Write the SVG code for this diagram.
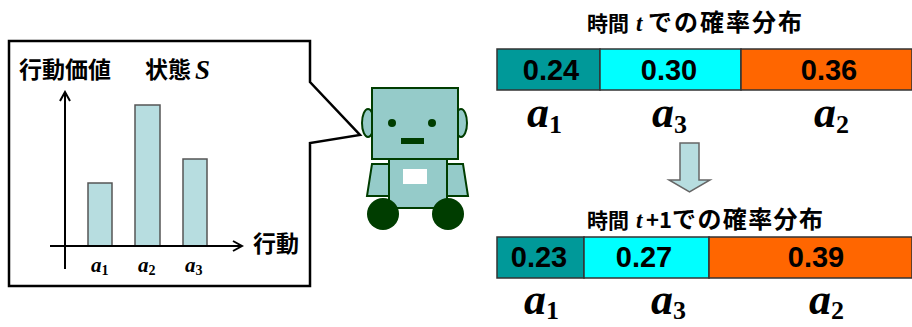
<svg xmlns="http://www.w3.org/2000/svg" width="912" height="327" viewBox="0 0 912 327">
  <defs>
    <marker id="arr" markerWidth="12" markerHeight="12" refX="10" refY="6" orient="auto" markerUnits="userSpaceOnUse">
      <path d="M1,1 L10,6 L1,11" fill="none" stroke="#000" stroke-width="2"/>
    </marker>
    <style>
      .jp { font-family: "Noto Sans CJK JP", "Noto Sans CJK SC", sans-serif; font-weight: 700; fill: #000; }
      .var { font-family: "Liberation Serif", "DejaVu Serif", serif; font-style: italic; font-weight: 700; fill: #000; }
      .sub { font-style: normal; }
      .num { font-family: "Liberation Sans", Arial, sans-serif; font-size: 29px; font-weight: 700; fill: #000; text-anchor: middle; }
      .bar { fill: #b7dde0; stroke: #555; stroke-width: 1.5; }
      .seg { stroke: #333; stroke-width: 1.5; }
      .robo { fill: #95cbc9; stroke: #003d00; stroke-width: 2; }
      .dk { fill: #003d00; }
    </style>
  </defs>

  <rect width="912" height="327" fill="#fff"/>

  <!-- speech bubble with bar chart -->
  <g id="bubble">
    <path d="M9,41 H310 V82 L360,135 L310,143 V286 H9 Z" fill="#fff" stroke="#000" stroke-width="2.5"/>
    <text class="jp" x="19" y="78" font-size="23">行動価値</text>
    <text class="jp" x="145" y="78" font-size="23">状態</text>
    <text class="var" x="195" y="79" font-size="27">S</text>
  </g>

  <g id="chart">
    <rect class="bar" x="88" y="183" width="24" height="63"/>
    <rect class="bar" x="135" y="105" width="25" height="141"/>
    <rect class="bar" x="183" y="159" width="24" height="87"/>
    <line x1="65" y1="269" x2="65" y2="92" stroke="#000" stroke-width="2" marker-end="url(#arr)"/>
    <line x1="50" y1="246" x2="242" y2="246" stroke="#000" stroke-width="2" marker-end="url(#arr)"/>
    <text class="jp" x="253" y="252" font-size="23">行動</text>
    <text class="var" x="91" y="272" font-size="21">a<tspan class="sub" font-size="14" dy="3">1</tspan></text>
    <text class="var" x="138" y="272" font-size="21">a<tspan class="sub" font-size="14" dy="3">2</tspan></text>
    <text class="var" x="185" y="272" font-size="21">a<tspan class="sub" font-size="14" dy="3">3</tspan></text>
  </g>

  <!-- robot -->
  <g id="robot">
    <ellipse class="robo" cx="368" cy="123" rx="6" ry="14"/>
    <ellipse class="robo" cx="461" cy="123" rx="6" ry="14"/>
    <polygon class="robo" points="372,164 389,164 391,196 367,196"/>
    <polygon class="robo" points="446,164 463,164 468,196 445,196"/>
    <rect class="robo" x="389" y="159" width="58" height="49"/>
    <rect x="403" y="169" width="24" height="15" fill="#fff"/>
    <rect class="robo" x="372" y="88" width="86" height="71"/>
    <circle class="dk" cx="392" cy="123" r="4"/>
    <circle class="dk" cx="432" cy="123" r="4"/>
    <rect class="dk" x="401" y="138" width="23" height="6"/>
    <circle class="dk" cx="383" cy="214" r="16"/>
    <circle class="dk" cx="448" cy="214" r="16"/>
  </g>

  <!-- distribution at time t -->
  <g id="dist-t">
    <text class="jp" x="587" y="31" font-size="21">時間</text>
    <text class="var" x="636" y="31" font-size="23">t</text>
    <text class="jp" x="648" y="31" font-size="24" textLength="154" lengthAdjust="spacing">での確率分布</text>
    <rect class="seg" x="497" y="49" width="103" height="41" fill="#009999"/>
    <rect class="seg" x="600" y="49" width="141" height="41" fill="#00ffff"/>
    <rect class="seg" x="741" y="49" width="171" height="41" fill="#ff6600"/>
    <text class="num" x="551" y="80">0.24</text>
    <text class="num" x="669" y="80">0.30</text>
    <text class="num" x="829" y="80">0.36</text>
    <text class="var" x="527" y="127" font-size="44">a<tspan class="sub" font-size="26" dy="6">1</tspan></text>
    <text class="var" x="652" y="127" font-size="44">a<tspan class="sub" font-size="26" dy="6">3</tspan></text>
    <text class="var" x="814" y="127" font-size="44">a<tspan class="sub" font-size="26" dy="6">2</tspan></text>
  </g>

  <!-- transition arrow -->
  <g id="connectors">
    <path d="M680,143 H699 V180 H710 L689.5,192 L669,180 H680 Z" fill="#b7dde0" stroke="#666" stroke-width="1.5"/>
  </g>

  <!-- distribution at time t+1 -->
  <g id="dist-t1">
    <text class="jp" x="587" y="228" font-size="21">時間</text>
    <text class="var" x="636" y="228" font-size="23">t</text>
    <text class="jp" x="646" y="228" font-size="22">+1</text>
    <text class="jp" x="672" y="228" font-size="24" textLength="151" lengthAdjust="spacing">での確率分布</text>
    <rect class="seg" x="497" y="237" width="87" height="41" fill="#009999"/>
    <rect class="seg" x="584" y="237" width="125" height="41" fill="#00ffff"/>
    <rect class="seg" x="709" y="237" width="203" height="41" fill="#ff6600"/>
    <text class="num" x="539" y="267">0.23</text>
    <text class="num" x="644" y="267">0.27</text>
    <text class="num" x="816" y="267">0.39</text>
    <text class="var" x="524" y="314" font-size="44">a<tspan class="sub" font-size="26" dy="5">1</tspan></text>
    <text class="var" x="651" y="314" font-size="44">a<tspan class="sub" font-size="26" dy="5">3</tspan></text>
    <text class="var" x="809" y="314" font-size="44">a<tspan class="sub" font-size="26" dy="5">2</tspan></text>
  </g>
</svg>
